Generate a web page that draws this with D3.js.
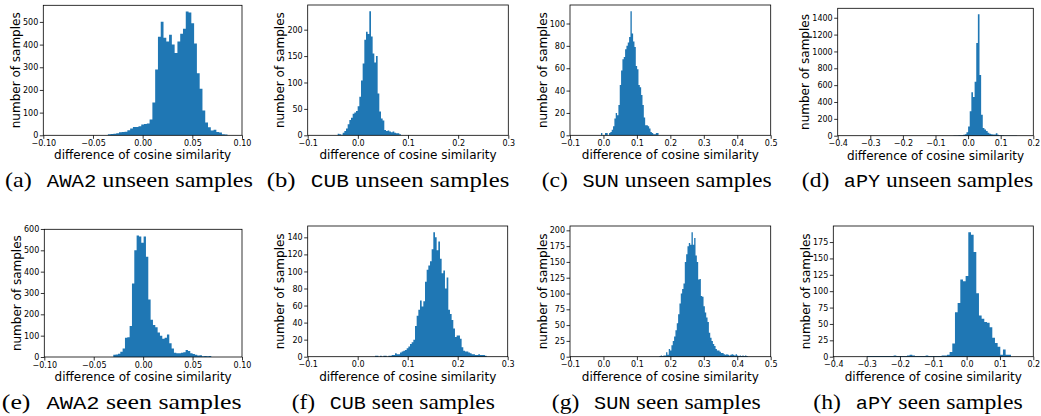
<!DOCTYPE html>
<html>
<head>
<meta charset="utf-8">
<script src="https://cdn.jsdelivr.net/npm/d3@7"></script>
<style>
body { margin: 0; background: #fff; }
.tick text { font-size: 8px; font-family: "DejaVu Sans", sans-serif; fill: #000; }
.tick line { stroke: #000; stroke-width: 0.8; }
.axlabel { font-size: 12px; font-family: "DejaVu Sans", sans-serif; fill: #000; }
.frame { fill: none; stroke: #000; stroke-width: 0.8; }
</style>
</head>
<body>
<div id="container"></div>
<script>
// histogram counts (one value per bin)
var awa2UnseenCounts = [5,6,7,9,14,15,16,22,30,37,37,40,48,50,52,70,145,290,435,501,430,414,443,400,363,414,448,470,546,542,494,405,274,205,109,57,36,21,25,15,12,5,3];
var cubUnseenCounts = [3,2,1,5,8,13,21,29,33,41,43,46,55,73,104,136,181,196,192,235,187,155,138,150,79,45,32,28,10,8,9,7,6,7,5,4,4,2];
var sunUnseenCounts = [2,0,0,2,2,0,2,3,5,8,15,20,18,27,45,58,68,70,77,80,83,88,111,91,84,79,62,59,45,43,36,27,16,9,9,8,6,3,2,1,1,2,2];
var apyUnseenCounts = [3,3,3,4,5,6,10,18,40,110,290,515,460,640,1100,1440,720,250,90,75,55,35,22,18,15,14,28,12,5,4,4,3,3,3,3,2,2,2,2];
var awa2SeenCounts = [10,12,15,25,40,90,92,145,345,500,570,565,535,565,470,270,175,150,140,115,100,85,90,105,65,40,20,18,17,20,22,33,28,18,14,10,7,8,3,5,3,5];
var cubSeenCounts = [1,1,0,1,0,1,1,0,1,1,2,2,4,3,3,5,6,7,8,10,12,15,17,20,36,48,55,66,59,65,88,102,107,112,126,146,140,125,135,115,98,101,80,93,55,50,43,33,23,25,25,21,11,7,6,6,5,4,3,3,2,2,3,2,2,2,1];
var sunSeenCounts = [1,2,1,2,2,7,3,12,10,18,25,32,42,53,67,84,100,107,116,150,162,175,180,177,197,177,188,160,150,122,123,96,95,80,70,62,55,38,30,25,20,17,12,10,10,8,6,6,4,3,4,3,2,3,4,3,2,4,2,1,2,1,2,1,2,1];
var apySeenCounts = [1,1,1,1,1,1,1,1,1,1,2,1,1,1,1,2,3,2,1,1,1,1,2,1,1,1,1,1,2,2,3,7,20,68,82,118,115,123,190,186,160,97,63,58,53,52,45,29,21,15,3,11,3,3];

// first bin edge and bin width of each histogram
var binStarts = [-0.035, -0.0402, -0.0073, -0.045, -0.0302, 0.0347, 0.1672, -0.299];
var binWidths = [0.0028, 0.00332, 0.004, 0.005, 0.00236, 0.00333, 0.004, 0.008];

// axis ticks
var xTicksAwa2 = [-0.10, -0.05, 0.00, 0.05, 0.10];
var xTicksCub = [-0.1, 0.0, 0.1, 0.2, 0.3];
var xTicksSun = [-0.1, 0.0, 0.1, 0.2, 0.3, 0.4, 0.5];
var xTicksApy = [-0.4, -0.3, -0.2, -0.1, 0.0, 0.1, 0.2];
var yTicksA = [0, 100, 200, 300, 400, 500];
var yTicksB = [0, 50, 100, 150, 200];
var yTicksC = [0, 20, 40, 60, 80, 100];
var yTicksD = [0, 200, 400, 600, 800, 1000, 1200, 1400];
var yTicksE = [0, 100, 200, 300, 400, 500, 600];
var yTicksF = [0, 20, 40, 60, 80, 100, 120, 140];
var yTicksG = [0, 25, 50, 75, 100, 125, 150, 175, 200];
var yTicksH = [0, 25, 50, 75, 100, 125, 150, 175];

var letters = ["a", "b", "c", "d", "e", "f", "g", "h"];
var datasets = ["AWA2", "CUB", "SUN", "aPY", "AWA2", "CUB", "SUN", "aPY"];
var splits = ["unseen", "unseen", "unseen", "unseen", "seen", "seen", "seen", "seen"];

var w = 1041, h = 416;
var serif = "'Liberation Serif', 'Times New Roman', Times, serif";
var mono = "'Liberation Mono', 'Courier New', Courier, monospace";

// plot boxes and caption placement
var layout = [
    {l: 43.3, r: 242, t: 5.3, b: 135.3, cx: 129, cy: 186.7, cw: 248},
    {l: 307.7, r: 508.3, t: 5, b: 135.3, cx: 388, cy: 186.7, cw: 242.6},
    {l: 570, r: 770.7, t: 5, b: 135.3, cx: 656.7, cy: 186.7, cw: 230},
    {l: 837.7, r: 1033.3, t: 8.3, b: 135.7, cx: 917.5, cy: 186.7, cw: 231.6},
    {l: 44.3, r: 242, t: 229.3, b: 357, cx: 121.7, cy: 409.3, cw: 240},
    {l: 307.7, r: 507.7, t: 226, b: 356.7, cx: 393.3, cy: 409.3, cw: 203.3},
    {l: 570, r: 770.7, t: 226, b: 356.7, cx: 656.2, cy: 409.3, cw: 209},
    {l: 833.3, r: 1033.3, t: 226, b: 356.7, cx: 918, cy: 409.3, cw: 209.4}
];

var counts = [awa2UnseenCounts, cubUnseenCounts, sunUnseenCounts, apyUnseenCounts,
              awa2SeenCounts, cubSeenCounts, sunSeenCounts, apySeenCounts];
var xTicks = [xTicksAwa2, xTicksCub, xTicksSun, xTicksApy, xTicksAwa2, xTicksCub, xTicksSun, xTicksApy];
var yTicks = [yTicksA, yTicksB, yTicksC, yTicksD, yTicksE, yTicksF, yTicksG, yTicksH];

var svg = d3.select("#container").append("svg")
    .attr("width", w)
    .attr("height", h);

counts.forEach(function(c, i) {
    var box = layout[i];
    var ticks = xTicks[i];
    var x = d3.scaleLinear()
        .domain([ticks[0], ticks[ticks.length - 1]])
        .range([box.l, box.r]);
    var y = d3.scaleLinear()
        .domain([0, d3.max(c) * 1.05])
        .range([box.b, box.t]);

    var g = svg.append("g").attr("class", "panel");

    // bin edges: one point per left edge plus the last right edge
    var pts = c.map(function(v, k) {
        return {x: binStarts[i] + k * binWidths[i], n: v};
    });
    pts.push({x: binStarts[i] + c.length * binWidths[i], n: 0});

    // step area so neighbouring bars show no seams
    var area = d3.area()
        .curve(d3.curveStepAfter)
        .x(function(d) { return x(d.x); })
        .y0(y(0))
        .y1(function(d) { return y(d.n); });

    g.append("path")
        .datum(pts)
        .attr("d", area)
        .attr("fill", "#1f77b4");

    // x axis
    var xFmt = (i % 4 === 0) ? d3.format(".2f") : d3.format(".1f");
    var xa = g.append("g")
        .attr("transform", "translate(0," + box.b + ")")
        .call(d3.axisBottom(x).tickValues(ticks).tickSize(3.5).tickPadding(1.5).tickFormat(xFmt));
    xa.select(".domain").remove();

    // y axis
    var ya = g.append("g")
        .attr("transform", "translate(" + box.l + ",0)")
        .call(d3.axisLeft(y).tickValues(yTicks[i]).tickSize(3.5).tickPadding(1.5).tickFormat(d3.format("d")));
    ya.select(".domain").remove();

    g.append("rect")
        .attr("class", "frame")
        .attr("x", box.l)
        .attr("y", box.t)
        .attr("width", box.r - box.l)
        .attr("height", box.b - box.t);

    g.append("text")
        .attr("class", "axlabel")
        .attr("x", (box.l + box.r) / 2)
        .attr("y", box.b + 24)
        .attr("text-anchor", "middle")
        .text("difference of cosine similarity");

    // y label sits left of the widest tick label
    var tw = 0;
    ya.selectAll("text").each(function() {
        tw = Math.max(tw, this.getComputedTextLength());
    });
    g.append("text")
        .attr("class", "axlabel")
        .attr("transform", "translate(" + (box.l - tw - 8) + "," + ((box.t + box.b) / 2) + ") rotate(-90)")
        .attr("text-anchor", "middle")
        .text("number of samples");

    // caption
    var cap = g.append("g");
    var t = cap.append("text")
        .attr("text-anchor", "middle")
        .style("font-family", serif)
        .style("font-size", "21px")
        .style("fill", "#000");
    t.append("tspan").text("(" + letters[i] + ")");
    t.append("tspan").attr("dx", 13).style("font-family", mono).style("font-size", "18px").text(datasets[i]);
    t.append("tspan").text(" " + splits[i] + " samples");
    var bw = t.node().getBBox().width;
    cap.attr("transform", "translate(" + box.cx + "," + box.cy + ") scale(" + (box.cw / bw) + ",1)");
});
</script>
</body>
</html>
